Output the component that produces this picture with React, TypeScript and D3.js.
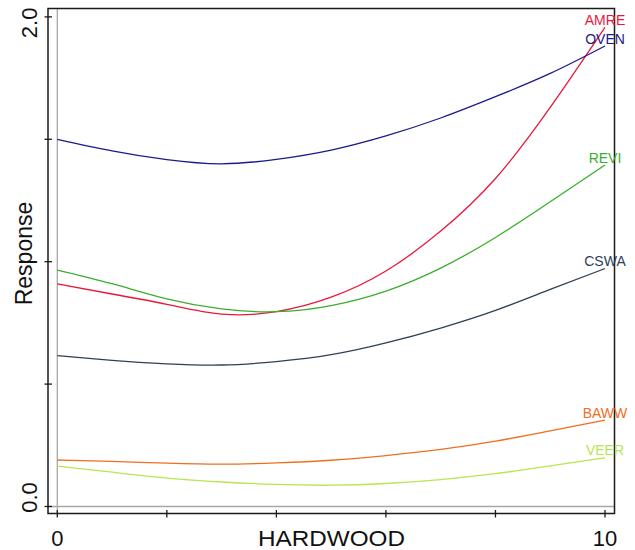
import * as d3 from "d3";

// ── Data ─────────────────────────────────────────────────────────────────────
const HARDWOOD = [0, 1, 2, 3, 4, 5, 6, 7, 8, 9, 10];

const AMRE = [0.909, 0.868, 0.826, 0.786, 0.796, 0.855, 0.962, 1.125, 1.340, 1.630, 1.957];
const OVEN = [1.500, 1.453, 1.417, 1.400, 1.418, 1.456, 1.514, 1.587, 1.674, 1.769, 1.881];
const REVI = [0.966, 0.910, 0.848, 0.807, 0.796, 0.821, 0.880, 0.974, 1.099, 1.245, 1.395];
const CSWA = [0.616, 0.597, 0.583, 0.578, 0.592, 0.620, 0.668, 0.729, 0.801, 0.887, 0.972];
const BAWW = [0.190, 0.184, 0.177, 0.173, 0.178, 0.189, 0.208, 0.233, 0.267, 0.309, 0.353];
const VEER = [0.165, 0.140, 0.116, 0.100, 0.090, 0.087, 0.094, 0.110, 0.134, 0.166, 0.199];

const SPECIES = ["AMRE", "OVEN", "REVI", "CSWA", "BAWW", "VEER"];
const VALUES = [AMRE, OVEN, REVI, CSWA, BAWW, VEER];
const COLORS = ["#e8173c", "#1a1a8c", "#3aae2c", "#2f4055", "#f06e1e", "#b8e64e"];

const X_TICKS = [0, 2, 4, 6, 8, 10];
const X_TICK_LABELS = ["0", "", "", "", "", "10"];
const Y_TICKS = [0, 0.5, 1, 1.5, 2];
const Y_TICK_LABELS = ["0.0", "", "", "", "2.0"];

// ── Layout ───────────────────────────────────────────────────────────────────
const W = 635;
const H = 550;
const FRAME = { left: 48, top: 8.5, right: 614.5, bottom: 513.5 };
const FONT = "'Liberation Sans', Arial, Helvetica, sans-serif";

export default function App() {
  const x = d3.scaleLinear().domain([0, 10]).range([57.3, 605]);
  const y = d3.scaleLinear().domain([0, 2]).range([506.5, 16.9]);

  const line = d3
    .line<number>()
    .x((_, i) => x(HARDWOOD[i]))
    .y((d) => y(d))
    .curve(d3.curveNatural);

  const last = HARDWOOD.length - 1;

  return (
    <div style={{ position: "absolute", left: 0, top: 0 }}>
      <svg width={W} height={H} style={{ display: "block", background: "#fff" }}>
        {/* zero reference lines */}
        <line x1={x(0)} x2={x(0)} y1={FRAME.top} y2={FRAME.bottom} stroke="#a8a8a8" strokeWidth={1.3} />
        <line x1={FRAME.left} x2={FRAME.right} y1={y(0)} y2={y(0)} stroke="#a8a8a8" strokeWidth={1.3} />

        {/* curves */}
        {VALUES.map((vals, i) => (
          <path key={SPECIES[i]} d={line(vals) ?? ""} fill="none" stroke={COLORS[i]} strokeWidth={1.3} />
        ))}

        {/* frame */}
        <rect
          x={FRAME.left}
          y={FRAME.top}
          width={FRAME.right - FRAME.left}
          height={FRAME.bottom - FRAME.top}
          fill="none"
          stroke="#1a1a1a"
          strokeWidth={1.5}
        />

        {/* x ticks */}
        {X_TICKS.map((t, i) => (
          <g key={"xt" + t}>
            <line x1={x(t)} x2={x(t)} y1={510} y2={517.5} stroke="#1a1a1a" strokeWidth={1.3} />
            {X_TICK_LABELS[i] && (
              <text x={x(t)} y={546} textAnchor="middle" fontFamily={FONT} fontSize={22} fill="#111">
                {X_TICK_LABELS[i]}
              </text>
            )}
          </g>
        ))}

        {/* y ticks */}
        {Y_TICKS.map((t, i) => (
          <g key={"yt" + t}>
            <line x1={44.5} x2={52} y1={y(t)} y2={y(t)} stroke="#1a1a1a" strokeWidth={1.3} />
            {Y_TICK_LABELS[i] && (
              <text
                transform={`translate(37,${t === 0 ? y(t) - 9 : y(t) + 6}) rotate(-90)`}
                textAnchor="middle"
                fontFamily={FONT}
                fontSize={22}
                fill="#111"
              >
                {Y_TICK_LABELS[i]}
              </text>
            )}
          </g>
        ))}

        {/* axis titles */}
        <text
          x={331.5}
          y={545.5}
          textAnchor="middle"
          fontFamily={FONT}
          fontSize={22.5}
          fill="#111"
          textLength={147}
          lengthAdjust="spacingAndGlyphs"
        >
          HARDWOOD
        </text>
        <text
          transform="translate(31.5,253.5) rotate(-90)"
          textAnchor="middle"
          fontFamily={FONT}
          fontSize={23}
          fill="#111"
        >
          Response
        </text>

        {/* species labels at curve ends */}
        {VALUES.map((vals, i) => (
          <text
            key={"lab" + SPECIES[i]}
            x={x(HARDWOOD[last])}
            y={y(vals[last]) - 2.5}
            textAnchor="middle"
            fontFamily={FONT}
            fontSize={14}
            fill={COLORS[i]}
          >
            {SPECIES[i]}
          </text>
        ))}
      </svg>
    </div>
  );
}
